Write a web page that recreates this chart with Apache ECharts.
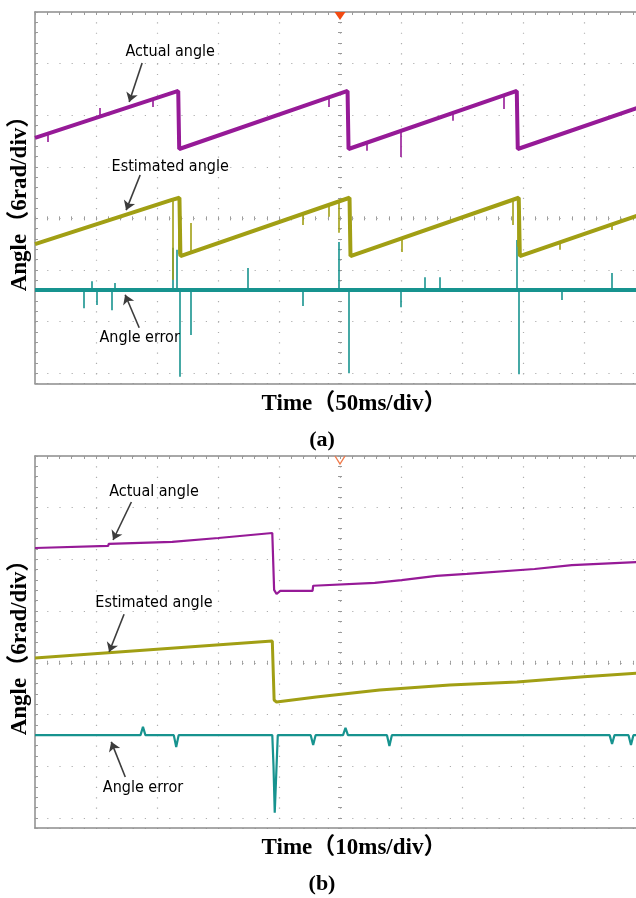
<!DOCTYPE html>
<html><head><meta charset="utf-8">
<script src="https://cdn.jsdelivr.net/npm/echarts@6/dist/echarts.min.js"></script>
<style>html,body{margin:0;padding:0;background:#fff}#c{width:636px;height:898px}</style>
</head><body><div id="c"></div>
<script>
// ---------------- DATA (x: ms, y: divisions below top of screen) ----------------
// Panel (a): 50 ms/div — trace vertices
const actualA = [[0,2.44],[117.4,1.53],[118.2,2.655],[256.2,1.53],[257.0,2.655],[394.9,1.53],[395.7,2.655],[493.4,1.86]];
const estimatedA = [[0,4.50],[112.2,3.64],[118.4,3.60],[119.2,4.73],[257.8,3.60],[258.6,4.73],[396.5,3.60],[397.4,4.73],[493.4,3.95]];
const errorA = [[0,5.39],[493.4,5.39]];
// Panel (a) spikes: [ms, from div, to div]
const actualASpikes = [[10.7,2.36,2.52],[53.4,2.02,1.86],[96.9,1.69,1.84],[240.6,1.66,1.84],[271.8,2.54,2.69],[299.7,2.31,2.81],[342.4,1.96,2.11],[384.2,1.62,1.88]];
const estimatedASpikes = [[112.5,3.64,5.19],[117.8,3.60,4.70],[127.3,4.67,4.09],[219.2,3.92,4.13],[240.6,3.75,3.97],[248.8,3.69,4.28],[300.5,4.39,4.65],[391.6,3.65,4.13],[395.6,3.61,4.55],[430.2,4.465,4.61],[472.9,4.12,4.225]];
const errorASpikes = [[40.2,5.39,5.74],[46.6,5.39,5.22],[50.9,5.39,5.68],[63.2,5.39,5.78],[65.0,5.39,5.25],[112.5,5.39,4.57],[116.2,5.39,4.61],[118.8,5.39,7.07],[127.3,5.39,6.26],[174.1,5.39,4.96],[219.2,5.39,5.70],[248.8,5.39,4.46],[257.0,5.39,7.00],[299.7,5.39,5.72],[319.4,5.39,5.14],[331.7,5.39,5.14],[394.9,5.39,4.42],[396.5,5.39,7.02],[431.8,5.39,5.58],[472.9,5.39,5.06]];
// Panel (b): 10 ms/div
const actualB = [[0,1.78],[12.0,1.74],[12.07,1.70],[22.5,1.66],[22.6,1.625],[30.05,1.586],[38.9,1.49],[39.2,2.59],[39.6,2.67],[40.2,2.61],[45.5,2.61],[45.6,2.51],[55.7,2.456],[60.1,2.40],[65.8,2.32],[70.8,2.28],[81.9,2.186],[88.0,2.11],[98.7,2.05]];
const estimatedB = [[0,3.907],[32.0,3.636],[38.9,3.578],[39.2,4.72],[39.6,4.76],[46.1,4.66],[56.5,4.526],[68.0,4.43],[79.0,4.37],[90.0,4.27],[98.7,4.20]];
const errorB = [[0,5.40],[17.3,5.40],[17.7,5.24],[18.1,5.40],[22.75,5.40],[23.15,5.63],[23.55,5.40],[38.9,5.40],[39.1,6.0],[39.3,6.9],[39.5,6.3],[39.8,5.40],[45.2,5.40],[45.6,5.59],[46.0,5.40],[50.5,5.40],[50.9,5.26],[51.3,5.40],[57.7,5.40],[58.1,5.61],[58.5,5.40],[94.2,5.40],[94.6,5.57],[95.0,5.40],[97.3,5.40],[97.7,5.59],[98.1,5.40],[98.7,5.40]];

// Scope screen: 10 x-divisions, 7.2 visible y-divisions
const msPerDiv = [50, 10];
const xDivs = 10;
const yVisibleDivs = 7.2;
const centerYDiv = 4;
const centerXDiv = 5;
const seriesNames = ['Actual angle', 'Estimated angle', 'Angle error'];
const xTitles = ['Time（50ms/div）', 'Time（10ms/div）'];
const yTitle = 'Angle（6rad/div）';
const panelTags = ['(a)', '(b)'];
// annotation: [label x, label y, arrow start x, y, arrow tip x, y]
const annotA = [[110.8,0.775,87.8,0.99,77.2,1.744],[110.8,3.00,86.2,3.16,74.7,3.84],[85.8,6.32,85.4,6.12,73.9,5.48]];
const annotB = [[19.5,0.70,15.8,0.89,12.8,1.625],[19.5,2.84,14.6,3.06,12.15,3.79],[17.7,6.42,14.8,6.21,12.5,5.53]];

// ---------------- STYLE ----------------
const PURPLE = '#961A97', OLIVE = '#A19F14', TEAL = '#17938F';
const FRAME = '#8c8c8c', DOT = '#aeaeae', TICK = '#9a9a9a';
const gridsPx = [{top:12, h:371.5}, {top:456, h:372.2}];
const pxPerDivX = 61;

const grids = gridsPx.map(g => ({left:35, top:g.top, width:pxPerDivX * xDivs, height:g.h,
  containLabel:false, outerBoundsMode:'none'}));
const xAxes = [], yAxes = [];
const hidden = {axisLabel:{show:false}, axisTick:{show:false}, axisLine:{show:false}, splitLine:{show:false}};
gridsPx.forEach((g, gi) => {
  const max = msPerDiv[gi] * xDivs;
  const base = Object.assign({}, hidden, {gridIndex:gi, type:'value', min:0, max:max});
  const pxPerDivY = g.h / yVisibleDivs;
  xAxes.push(Object.assign({}, base, {position:'top', interval:msPerDiv[gi],
    axisLine:{show:true, onZero:false, lineStyle:{color:FRAME, width:1.5}},
    splitLine:{show:true, lineStyle:{color:DOT, width:1.2, type:[1.2, pxPerDivY/5 - 1.2]}}}));
  xAxes.push(Object.assign({}, base, {position:'top', interval:msPerDiv[gi]/5,
    axisTick:{show:true, inside:true, length:3, lineStyle:{color:TICK}}}));
  xAxes.push(Object.assign({}, base, {position:'bottom',
    axisLine:{show:true, onZero:false, lineStyle:{color:FRAME, width:1.5}}}));
  [false, true].forEach(ins => xAxes.push(Object.assign({}, base, {position:'top', offset:-centerYDiv*pxPerDivY,
    interval:msPerDiv[gi]/5, axisTick:{show:true, inside:ins, length:2, lineStyle:{color:TICK}}})));

  const yb = Object.assign({}, hidden, {gridIndex:gi, type:'value', min:0, max:yVisibleDivs, inverse:true, position:'left'});
  yAxes.push(Object.assign({}, yb, {interval:1,
    axisLine:{show:true, onZero:false, lineStyle:{color:FRAME, width:1.5}},
    splitLine:{show:true, lineStyle:{color:DOT, width:1.2, type:[1.2, pxPerDivX/5 - 1.2]}}}));
  yAxes.push(Object.assign({}, yb, {interval:0.2, axisTick:{show:true, inside:true, length:3, lineStyle:{color:TICK}}}));
  [false, true].forEach(ins => yAxes.push(Object.assign({}, yb, {offset:-centerXDiv*pxPerDivX, interval:0.2,
    axisTick:{show:true, inside:ins, length:2, lineStyle:{color:TICK}}})));
});

function annot(arr) {
  return {
    markLine: {silent:true, animation:false, symbol:['none','arrow'], symbolSize:9,
      label:{show:false}, lineStyle:{color:'#3c3c3c', width:1.6, type:'solid'},
      emphasis:{disabled:true},
      data: arr.map(a => [{coord:[a[2],a[3]]},{coord:[a[4],a[5]]}])},
    markPoint: {silent:true, animation:false, symbol:'circle', symbolSize:0,
      label:{show:true, position:'inside', color:'#000', fontSize:16,
        fontFamily:'"Liberation Sans Narrow","DejaVu Sans Condensed","Roboto",sans-serif',
        formatter: p => p.name},
      data: arr.map((a, i) => ({name: seriesNames[i], coord:[a[0], a[1]]}))}
  };
}

function line(name, data, color, width, xi, yi, extra) {
  return Object.assign({type:'line', name, data, xAxisIndex:xi, yAxisIndex:yi, showSymbol:false,
    symbol:'none', animation:false, clip:true, lineStyle:{color, width}, itemStyle:{color}}, extra || {});
}
function spikes(name, arr, color, width, xi, yi) {
  return {type:'lines', name, coordinateSystem:'cartesian2d', xAxisIndex:xi, yAxisIndex:yi,
    animation:false, silent:true, polyline:false,
    lineStyle:{color, width, opacity:1, curveness:0},
    data: arr.map(s => ({coords:[[s[0], s[1]], [s[0], s[2]]]}))};
}

const series = [
  line(seriesNames[2], errorA, TEAL, 4, 0, 0, annot(annotA)),
  spikes(seriesNames[2], errorASpikes, TEAL, 1.6, 0, 0),
  line(seriesNames[1], estimatedA, OLIVE, 4, 0, 0),
  spikes(seriesNames[1], estimatedASpikes, OLIVE, 1.6, 0, 0),
  line(seriesNames[0], actualA, PURPLE, 4, 0, 0, {markPoint:{silent:true, animation:false,
    symbol:'triangle', symbolRotate:180, symbolSize:[11,8], symbolOffset:[0,4],
    itemStyle:{color:'#F24A12'}, label:{show:false}, data:[{coord:[msPerDiv[0]*centerXDiv, 0]}]}}),
  spikes(seriesNames[0], actualASpikes, PURPLE, 1.6, 0, 0),
  line(seriesNames[2], errorB, TEAL, 2.2, 5, 4, annot(annotB)),
  line(seriesNames[1], estimatedB, OLIVE, 3, 5, 4),
  line(seriesNames[0], actualB, PURPLE, 2.2, 5, 4, {markPoint:{silent:true, animation:false,
    symbol:'path://M0,0L5,8L10,0', symbolSize:[10,8], symbolOffset:[0,4],
    itemStyle:{color:'transparent', borderColor:'#F07A4A', borderWidth:1.2}, label:{show:false},
    data:[{coord:[msPerDiv[1]*centerXDiv, 0]}]}})
];

const serif = '"Liberation Serif","Times New Roman","Noto Sans CJK SC",serif';
const graphic = [];
gridsPx.forEach((g, gi) => {
  graphic.push({type:'text', x:20, y:g.top + 186, rotation:Math.PI/2,
    style:{text:yTitle, align:'center', verticalAlign:'middle', font:'bold 23px ' + serif, fill:'#000'}});
  graphic.push({type:'text', x:354, y:g.top + 392, style:{text:xTitles[gi], align:'center', verticalAlign:'middle',
    font:'bold 23px ' + serif, fill:'#000'}});
  graphic.push({type:'text', x:322, y:g.top + 428, style:{text:panelTags[gi], align:'center', verticalAlign:'middle',
    font:'bold 22px ' + serif, fill:'#000'}});
});

const chart = echarts.init(document.getElementById('c'), null, {renderer:'canvas'});
chart.setOption({
  backgroundColor:'#fff', animation:false,
  grid: grids, xAxis: xAxes, yAxis: yAxes, series: series, graphic: graphic
});
</script></body></html>
